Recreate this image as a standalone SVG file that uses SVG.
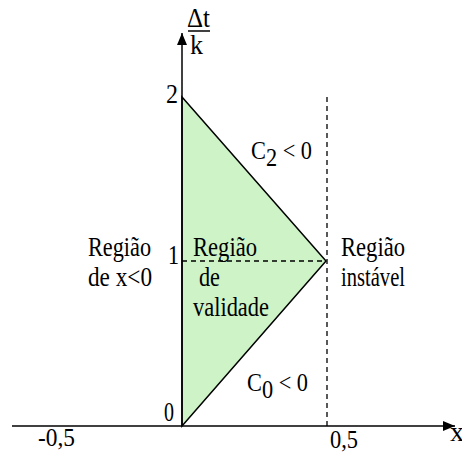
<svg xmlns="http://www.w3.org/2000/svg" width="462" height="453" viewBox="0 0 462 453">
<style>
text{font-family:"Liberation Serif",Tinos,"Times New Roman",Times,"Nimbus Roman","DejaVu Serif",serif;font-size:28px;fill:#000}
.ax{stroke:#000;stroke-width:1.5;fill:none}
.dash{stroke:#000;stroke-width:1.3;stroke-dasharray:5 4;fill:none}
.num{font-size:25px}
.c{font-size:25px}
</style>
<defs>
<marker id="arr" viewBox="0 0 12 10" refX="12" refY="5" markerWidth="12" markerHeight="10" markerUnits="userSpaceOnUse" orient="auto">
<path d="M0,0 L12,5 L0,10 Z" fill="#000"/>
</marker>
</defs>
<g id="region">
<polygon points="182,97 326,261 182,426" fill="#cdf3c6" stroke="#000" stroke-width="1.5"/>
</g>
<g id="connectors">
<line class="ax" x1="182" y1="426" x2="182" y2="33" marker-end="url(#arr)"/>
<line class="ax" x1="12" y1="426" x2="455" y2="426" marker-end="url(#arr)"/>
<line class="dash" x1="182" y1="261" x2="326" y2="261"/>
<line class="dash" x1="327" y1="97" x2="327" y2="426"/>
</g>
<g id="ylabel">
<text x="187" y="27" font-size="21" textLength="23" lengthAdjust="spacingAndGlyphs">Δt</text>
<line x1="188" y1="31" x2="210" y2="31" stroke="#000" stroke-width="1.5"/>
<text x="190" y="54" font-size="25" textLength="13" lengthAdjust="spacingAndGlyphs">k</text>
</g>
<g id="ticks">
<text x="166" y="103" textLength="12" lengthAdjust="spacingAndGlyphs">2</text>
<text x="168" y="264" font-size="27" textLength="11" lengthAdjust="spacingAndGlyphs">1</text>
<text x="164" y="421" font-size="20" textLength="10" lengthAdjust="spacingAndGlyphs">0</text>
<text class="num" x="38" y="446" textLength="37" lengthAdjust="spacingAndGlyphs">-0,5</text>
<text class="num" x="330" y="448" textLength="28" lengthAdjust="spacingAndGlyphs">0,5</text>
<text x="450" y="441" font-size="22">x</text>
</g>
<g id="left-label">
<text x="88" y="256" textLength="63" lengthAdjust="spacingAndGlyphs">Região</text>
<text x="88" y="286" textLength="64" lengthAdjust="spacingAndGlyphs">de x&lt;0</text>
</g>
<g id="valid-label">
<text x="193" y="256" textLength="64" lengthAdjust="spacingAndGlyphs">Região</text>
<text x="199" y="286" textLength="21" lengthAdjust="spacingAndGlyphs">de</text>
<text x="193" y="316" textLength="76" lengthAdjust="spacingAndGlyphs">validade</text>
</g>
<g id="unstable-label">
<text x="341" y="256" textLength="64" lengthAdjust="spacingAndGlyphs">Região</text>
<text x="341" y="286" textLength="64" lengthAdjust="spacingAndGlyphs">instável</text>
</g>
<g id="c2-label">
<text class="c" x="251" y="159" textLength="61" lengthAdjust="spacingAndGlyphs">C<tspan dy="7">2</tspan><tspan dy="-7"> &lt; 0</tspan></text>
</g>
<g id="c0-label">
<text class="c" x="247" y="391" textLength="61" lengthAdjust="spacingAndGlyphs">C<tspan dy="7">0</tspan><tspan dy="-7"> &lt; 0</tspan></text>
</g>
</svg>
